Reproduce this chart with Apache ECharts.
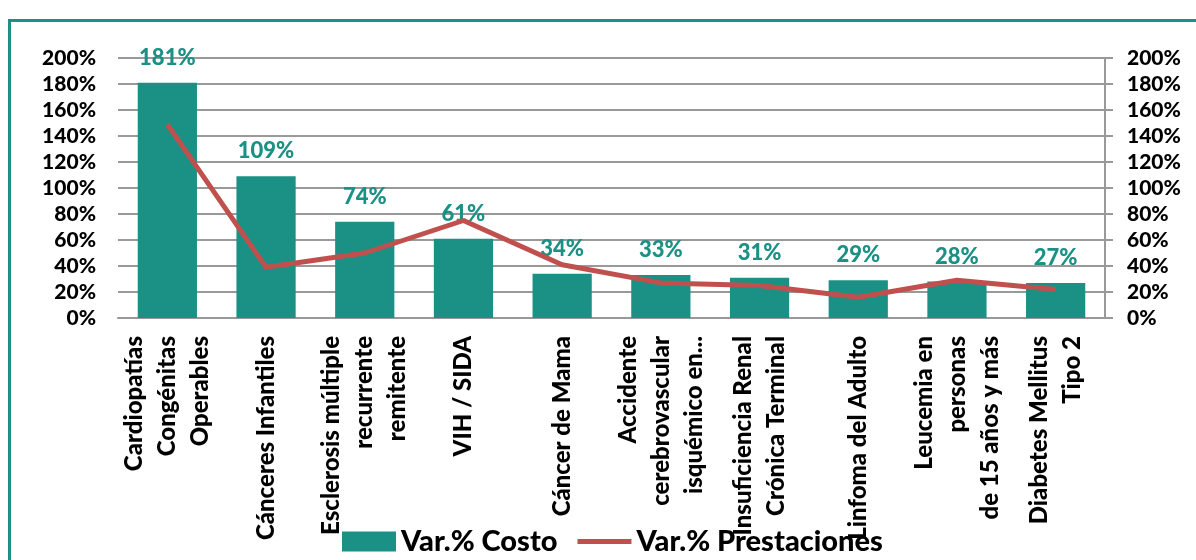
<!DOCTYPE html>
<html>
<head>
<meta charset="utf-8">
<script src="https://cdn.jsdelivr.net/npm/echarts@6/dist/echarts.min.js"></script>
<style>
html,body{margin:0;padding:0;background:#fff;}
#chart{width:1196px;height:560px;}
</style>
</head>
<body>
<div id="chart"></div>
<script>
const categories = [
  "Cardiopatías\nCongénitas\nOperables",
  "Cánceres Infantiles",
  "Esclerosis múltiple\nrecurrente\nremitente",
  "VIH / SIDA",
  "Cáncer de Mama",
  "Accidente\ncerebrovascular\nisquémico en...",
  "Insuficiencia Renal\nCrónica Terminal",
  "Linfoma del Adulto",
  "Leucemia en\npersonas\nde 15 años y más",
  "Diabetes Mellitus\nTipo 2"
];
const costoVar = [181, 109, 74, 61, 34, 33, 31, 29, 28, 27];
const prestacionesVar = [149, 39, 50, 75, 41, 27, 25, 16, 29, 22];
const seriesNames = ["Var.% Costo", "Var.% Prestaciones"];

const teal = "#1b9085";
const red = "#c0504d";
const FONT = "Lato";

const chart = echarts.init(document.getElementById('chart'));
const yAxisCommon = {
  type: 'value', min: 0, max: 200, interval: 20,
  axisLabel: {formatter: '{value}%', color: '#000', fontFamily: FONT, fontWeight: 900, fontSize: 21},
  splitLine: {show: true, lineStyle: {color: '#999', width: 2}}
};
chart.setOption({
  animation: false,
  graphic: [{
    type: 'rect', silent: true,
    shape: {x: 9.5, y: 20.5, width: 1300, height: 700},
    style: {fill: 'none', stroke: teal, lineWidth: 3}
  }],
  grid: {left: 118, right: 91, top: 58, bottom: 242},
  legend: {
    bottom: -1, left: 337, itemGap: 20, itemWidth: 54, itemHeight: 20,
    textStyle: {fontFamily: FONT, fontWeight: 900, fontSize: 29, color: '#000'},
    data: [
      {name: seriesNames[0], icon: 'rect'},
      {name: seriesNames[1], icon: 'path://M0,0 M0,7.5 L54,7.5 L54,12.5 L0,12.5 Z M54,20'}
    ]
  },
  xAxis: {
    type: 'category', data: categories,
    axisLine: {show: true, lineStyle: {color: '#999', width: 2}},
    axisTick: {show: false},
    axisLabel: {interval: 0, rotate: 90, margin: 18, color: '#000', fontFamily: FONT, fontWeight: 900, fontSize: 24, lineHeight: 33}
  },
  yAxis: [
    Object.assign({}, yAxisCommon, {
      position: 'left', axisLine: {show: false}, axisTick: {show: false},
      axisLabel: Object.assign({}, yAxisCommon.axisLabel, {margin: 22})
    }),
    Object.assign({}, yAxisCommon, {
      position: 'right',
      axisLine: {show: true, lineStyle: {color: '#999', width: 2}},
      axisTick: {show: true, length: 8, lineStyle: {color: '#999', width: 2}},
      axisLabel: Object.assign({}, yAxisCommon.axisLabel, {margin: 22}),
      splitLine: {show: false}
    })
  ],
  series: [
    {
      name: seriesNames[0], type: 'bar', data: costoVar, yAxisIndex: 0,
      barCategoryGap: '40%',
      itemStyle: {color: teal},
      label: {show: true, position: 'top', distance: 14, formatter: '{c}%', color: teal, fontFamily: FONT, fontWeight: 900, fontSize: 22}
    },
    {
      name: seriesNames[1], type: 'line', data: prestacionesVar, yAxisIndex: 1,
      symbol: 'none', showSymbol: false,
      lineStyle: {color: red, width: 5},
      itemStyle: {color: red},
      z: 3
    }
  ]
});
</script>
</body>
</html>
